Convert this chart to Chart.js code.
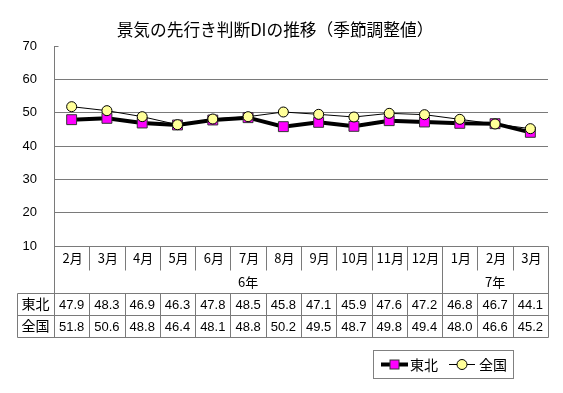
<!DOCTYPE html>
<html><head><meta charset="utf-8">
<script src="https://cdn.jsdelivr.net/npm/chart.js@4.4.1/dist/chart.umd.min.js"></script>
<style>html,body{margin:0;padding:0;background:#fff}#wrap{width:563px;height:393px;position:relative}</style>
</head><body><div id="wrap"><canvas id="c" width="563" height="393"></canvas></div>
<script>
const chartTitle = '景気の先行き判断DIの推移（季節調整値）';
const months = ['2月','3月','4月','5月','6月','7月','8月','9月','10月','11月','12月','1月','2月','3月'];
const yearLabels = ['6年','7年'];
const yearStart = [0, 11];
const yearEnd = [10, 13];
const seriesNames = ['東北','全国'];
const tohoku = [47.9,48.3,46.9,46.3,47.8,48.5,45.8,47.1,45.9,47.6,47.2,46.8,46.7,44.1];
const zenkoku = [51.8,50.6,48.8,46.4,48.1,48.8,50.2,49.5,48.7,49.8,49.4,48.0,46.6,45.2];
const yMin = 10, yMax = 70, yStep = 10;

const JP = '"Noto Sans CJK JP", sans-serif';
const NUM = '"Liberation Sans", Arial, sans-serif';
const GRID = '#7a7a7a';

const tablePlugin = {
  id: 'tablePlugin',
  afterDraw(chart) {
    const ctx = chart.ctx;
    const ca = chart.chartArea;
    const xs = chart.scales.x;
    const n = months.length;
    const centers = months.map((m, i) => xs.getPixelForValue(i));
    const edges = [ca.left];
    for (let i = 0; i < n - 1; i++) edges.push((centers[i] + centers[i + 1]) / 2);
    edges.push(ca.right);
    const r = v => Math.round(v) + 0.5;
    const top = ca.bottom, monthSepBottom = top + 24, yearBottom = top + 47;
    const row1Bottom = yearBottom + 22, row2Bottom = row1Bottom + 22;
    const labelLeft = 17;
    ctx.save();
    // title
    ctx.fillStyle = '#000';
    ctx.font = '16.7px ' + JP;
    ctx.textAlign = 'center';
    ctx.textBaseline = 'middle';
    ctx.fillText(chartTitle, 275, 30);
    // small tick at top of axis
    ctx.strokeStyle = GRID; ctx.lineWidth = 1;
    ctx.beginPath(); ctx.moveTo(r(ca.left), r(ca.top)); ctx.lineTo(r(ca.left) + 4, r(ca.top)); ctx.stroke();
    // table lines
    ctx.beginPath();
    ctx.moveTo(r(ca.left), r(top)); ctx.lineTo(r(ca.right), r(top));
    [yearBottom, row1Bottom, row2Bottom].forEach(y => { ctx.moveTo(labelLeft + 0.5, r(y)); ctx.lineTo(r(ca.right), r(y)); });
    ctx.moveTo(labelLeft + 0.5, r(yearBottom)); ctx.lineTo(labelLeft + 0.5, r(row2Bottom));
    ctx.moveTo(r(ca.left), r(top)); ctx.lineTo(r(ca.left), r(row2Bottom));
    ctx.moveTo(r(ca.right), r(top)); ctx.lineTo(r(ca.right), r(row2Bottom));
    for (let i = 1; i < n; i++) {
      const x = r(edges[i]);
      const full = yearStart.includes(i);
      ctx.moveTo(x, r(top)); ctx.lineTo(x, r(full ? yearBottom : monthSepBottom));
      ctx.moveTo(x, r(yearBottom)); ctx.lineTo(x, r(row2Bottom));
    }
    ctx.stroke();
    // month labels
    ctx.fillStyle = '#000';
    ctx.font = '13px ' + JP;
    months.forEach((m, i) => ctx.fillText(m, centers[i] + 1, top + 12));
    yearLabels.forEach((y, k) => {
      const cx = (edges[yearStart[k]] + edges[yearEnd[k] + 1]) / 2;
      ctx.fillText(y, cx, top + 36);
    });
    // row labels
    ctx.font = '14px ' + JP;
    ctx.fillText(seriesNames[0], (labelLeft + ca.left) / 2, (yearBottom + row1Bottom) / 2);
    ctx.fillText(seriesNames[1], (labelLeft + ca.left) / 2, (row1Bottom + row2Bottom) / 2);
    ctx.font = '13px ' + NUM;
    tohoku.forEach((v, i) => ctx.fillText(v.toFixed(1), centers[i], (yearBottom + row1Bottom) / 2 + 1));
    zenkoku.forEach((v, i) => ctx.fillText(v.toFixed(1), centers[i], (row1Bottom + row2Bottom) / 2 + 1));
    // legend
    const lx = 373, ly = 350, lw = 140, lh = 28;
    ctx.strokeStyle = '#808080';
    ctx.strokeRect(lx + 0.5, ly + 0.5, lw, lh);
    const cy = ly + lh / 2 + 0.5;
    const ds0 = chart.data.datasets[0], ds1 = chart.data.datasets[1];
    ctx.strokeStyle = '#000';
    ctx.lineWidth = ds0.borderWidth;
    ctx.beginPath(); ctx.moveTo(381, cy); ctx.lineTo(408, cy); ctx.stroke();
    ctx.fillStyle = ds0.pointBackgroundColor; ctx.strokeStyle = ds0.pointBorderColor; ctx.lineWidth = 1;
    ctx.fillRect(390, cy - 4.5, 9, 9); ctx.strokeRect(390, cy - 4.5, 9, 9);
    ctx.fillStyle = '#000';
    ctx.font = '14px ' + JP; ctx.textAlign = 'left';
    ctx.fillText(seriesNames[0], 410, cy);
    ctx.strokeStyle = '#000'; ctx.lineWidth = 1;
    ctx.beginPath(); ctx.moveTo(449, cy); ctx.lineTo(475, cy); ctx.stroke();
    ctx.fillStyle = ds1.pointBackgroundColor;
    ctx.beginPath(); ctx.arc(462, cy, 5, 0, Math.PI * 2); ctx.fill(); ctx.stroke();
    ctx.fillStyle = '#000';
    ctx.fillText(seriesNames[1], 479, cy);
    ctx.restore();
  }
};

new Chart(document.getElementById('c'), {
  type: 'line',
  data: {
    labels: months,
    datasets: [
      { label: seriesNames[0], data: tohoku, borderColor: '#000', borderWidth: 4, tension: 0,
        pointStyle: 'rect', pointRadius: 7, pointBackgroundColor: '#FF00FF', pointBorderColor: '#333333',
        pointBorderWidth: 1, order: 2 },
      { label: seriesNames[1], data: zenkoku, borderColor: '#000', borderWidth: 1, tension: 0,
        pointStyle: 'circle', pointRadius: 5, pointBackgroundColor: '#FFFF99', pointBorderColor: '#000',
        pointBorderWidth: 1, order: 1 }
    ]
  },
  options: {
    responsive: false,
    devicePixelRatio: 1,
    animation: false,
    layout: { padding: { top: 46, right: 15, bottom: 147, left: 0 } },
    plugins: { legend: { display: false }, title: { display: false }, tooltip: { enabled: false } },
    scales: {
      x: { type: 'category', offset: true, display: false },
      y: {
        min: yMin, max: yMax,
        afterFit(s) { s.width = 54; },
        ticks: { stepSize: yStep, color: '#000', padding: 17, font: { family: NUM, size: 13 } },
        grid: { drawTicks: false, color: c => (c.tick && (c.tick.value === yMax || c.tick.value === yMin)) ? 'rgba(0,0,0,0)' : GRID },
        border: { display: true, color: GRID }
      }
    }
  },
  plugins: [tablePlugin]
});
</script>
</body></html>
